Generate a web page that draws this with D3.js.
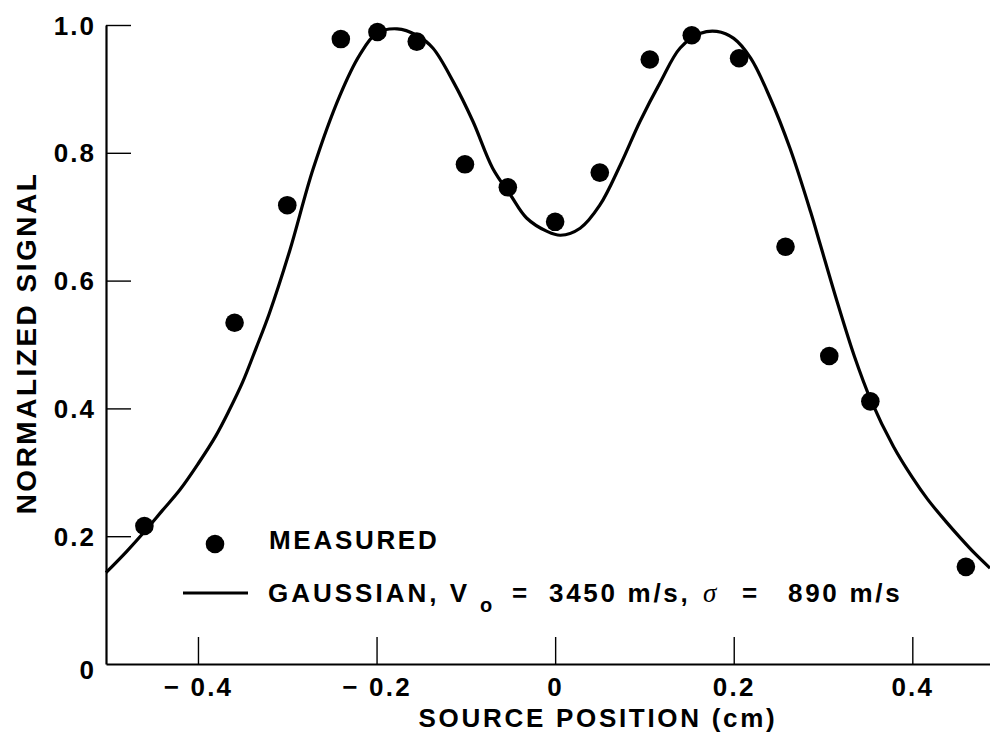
<!DOCTYPE html>
<html>
<head>
<meta charset="utf-8">
<script src="https://cdn.jsdelivr.net/npm/d3@7"></script>
<style>
  html, body { margin: 0; padding: 0; background: #fff; }
  svg { display: block; }
  text { font-family: "Liberation Sans", Arial, Helvetica, sans-serif; font-weight: bold; fill: #000; }
</style>
</head>
<body>
<svg id="chart" width="990" height="740"></svg>
<script>
// ---- data ----
const measuredX = [-0.460, -0.359, -0.300, -0.240, -0.199, -0.155, -0.101, -0.053, 0.000, 0.050, 0.106, 0.153, 0.206, 0.258, 0.307, 0.353, 0.460];
const measuredY = [0.216, 0.534, 0.718, 0.978, 0.989, 0.974, 0.782, 0.746, 0.692, 0.769, 0.946, 0.984, 0.948, 0.653, 0.482, 0.411, 0.152];

const gaussX = [-0.503, -0.480, -0.460, -0.440, -0.420, -0.400, -0.380, -0.365, -0.350, -0.335, -0.320, -0.297, -0.271, -0.241, -0.219, -0.200, -0.177, -0.155, -0.137, -0.114, -0.092, -0.070, -0.050, -0.032, -0.009, 0.006, 0.028, 0.050, 0.073, 0.095, 0.118, 0.140, 0.163, 0.181, 0.200, 0.219, 0.241, 0.263, 0.286, 0.297, 0.316, 0.335, 0.353, 0.379, 0.400, 0.417, 0.437, 0.454, 0.470, 0.487];
const gaussY = [0.143, 0.176, 0.207, 0.240, 0.273, 0.313, 0.357, 0.397, 0.441, 0.494, 0.549, 0.648, 0.775, 0.890, 0.953, 0.987, 0.994, 0.984, 0.964, 0.911, 0.849, 0.776, 0.734, 0.698, 0.677, 0.671, 0.682, 0.718, 0.781, 0.849, 0.911, 0.964, 0.987, 0.990, 0.979, 0.948, 0.885, 0.807, 0.708, 0.656, 0.566, 0.482, 0.415, 0.340, 0.292, 0.258, 0.224, 0.197, 0.173, 0.150];

const xTickValues = [-0.4, -0.2, 0, 0.2, 0.4];
const xTickLabels = ["\u2212 0.4", "\u2212 0.2", "0", "0.2", "0.4"];
const yTickValues = [0, 0.2, 0.4, 0.6, 0.8, 1.0];
const yTickLabels = ["0", "0.2", "0.4", "0.6", "0.8", "1.0"];

const xTitle = "SOURCE POSITION (cm)";
const yTitle = "NORMALIZED SIGNAL";
const legendMeasured = "MEASURED";

// ---- layout ----
const svg = d3.select("#chart");
const x = d3.scaleLinear().domain([-0.503, 0.487]).range([106, 990]);
const y = d3.scaleLinear().domain([0, 1]).range([664, 25]);
const LS = "2.7px";
const FONT = "'Liberation Sans', Arial, sans-serif";

// x axis
const xAxis = d3.axisBottom(x)
  .tickValues(xTickValues)
  .tickFormat((d, i) => xTickLabels[i])
  .tickSizeInner(-27).tickSizeOuter(0).tickPadding(14);
const gx = svg.append("g").attr("transform", "translate(0,664)").call(xAxis);
gx.select(".domain").attr("stroke", "#000").attr("stroke-width", 2.2);
gx.selectAll(".tick line").attr("stroke", "#000").attr("stroke-width", 1.4);
gx.selectAll(".tick text").style("font-size", "26px").style("letter-spacing", "2.2px")
  .style("font-family", FONT).style("font-weight", "bold");

// y axis
const yAxis = d3.axisLeft(y)
  .tickValues(yTickValues)
  .tickFormat((d, i) => yTickLabels[i])
  .tickSizeInner(-25).tickSizeOuter(0).tickPadding(10);
const gy = svg.append("g").attr("transform", "translate(106,0)").call(yAxis);
gy.select(".domain").attr("stroke", "#000").attr("stroke-width", 2.2);
gy.selectAll(".tick line").attr("stroke", "#000").attr("stroke-width", 1.4)
  .filter(d => d === 0).remove();
gy.selectAll(".tick text").style("font-size", "26px").style("letter-spacing", "2px")
  .style("font-family", FONT).style("font-weight", "bold")
  .attr("dy", d => d === 0 ? "0.55em" : "0.35em");

// axis titles
svg.append("text")
  .attr("x", 598).attr("y", 727)
  .attr("text-anchor", "middle")
  .style("font-size", "26px").style("letter-spacing", LS)
  .text(xTitle);

svg.append("text")
  .attr("transform", "translate(36,343) rotate(-90)")
  .attr("text-anchor", "middle")
  .style("font-size", "28px").style("letter-spacing", "2.5px")
  .text(yTitle);

// gaussian curve
const line = d3.line()
  .x((d, i) => x(gaussX[i]))
  .y((d, i) => y(gaussY[i]))
  .curve(d3.curveCatmullRom.alpha(0.5));
svg.append("path")
  .datum(gaussX)
  .attr("d", line)
  .attr("fill", "none")
  .attr("stroke", "#000")
  .attr("stroke-width", 3.2);

// measured points
svg.append("g").selectAll("circle")
  .data(measuredX)
  .join("circle")
  .attr("cx", d => x(d))
  .attr("cy", (d, i) => y(measuredY[i]))
  .attr("r", 9.3)
  .attr("fill", "#000");

// legend
svg.append("circle").attr("cx", 215).attr("cy", 544).attr("r", 9.3).attr("fill", "#000");
svg.append("text").attr("x", 269).attr("y", 549)
  .style("font-size", "26px").style("letter-spacing", LS).text(legendMeasured);

svg.append("line").attr("x1", 183).attr("x2", 248).attr("y1", 593).attr("y2", 593)
  .attr("stroke", "#000").attr("stroke-width", 3.2);

const lg = svg.append("g").style("font-size", "26px");
lg.append("text").attr("x", 268).attr("y", 602).style("letter-spacing", "3px").text("GAUSSIAN, V");
lg.append("text").attr("x", 480).attr("y", 612).style("font-size", "20px").style("letter-spacing", "0px").text("o");
lg.append("text").attr("x", 512).attr("y", 602).text("=");
lg.append("text").attr("x", 549).attr("y", 602).style("letter-spacing", LS).text("3450 m/s,");
lg.append("text").attr("x", 703).attr("y", 602)
  .style("font-family", "'Liberation Serif', 'DejaVu Serif', serif")
  .style("font-style", "italic").style("font-weight", "normal").style("font-size", "27px").text("\u03c3");
lg.append("text").attr("x", 742).attr("y", 602).text("=");
lg.append("text").attr("x", 788).attr("y", 602).style("letter-spacing", LS).text("890 m/s");
</script>
</body>
</html>
